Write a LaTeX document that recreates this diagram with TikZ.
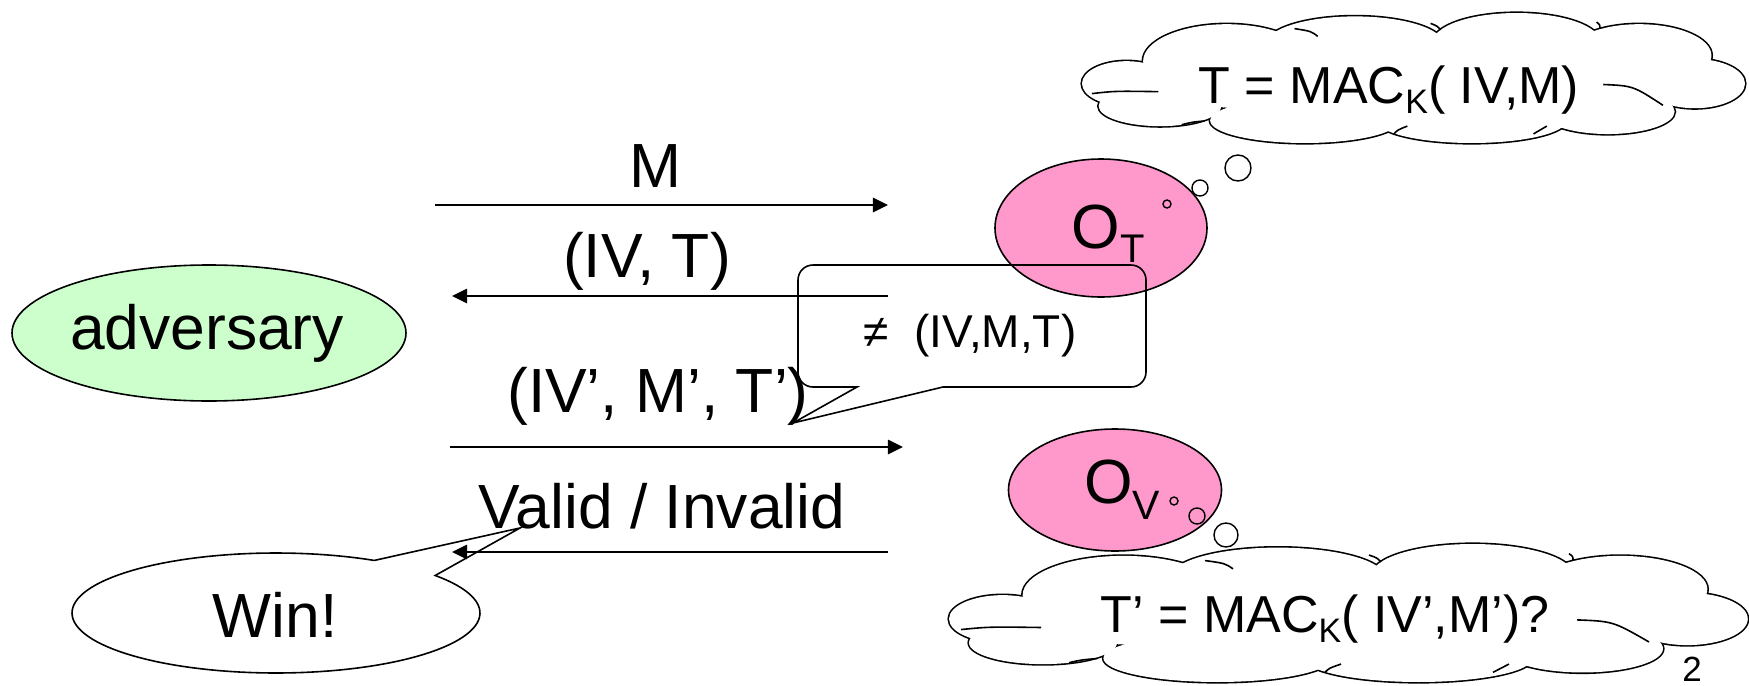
\documentclass[tikz,border=0pt]{standalone}
\usepackage{fontspec}
\setmainfont{Liberation Sans}
\usetikzlibrary{shapes.geometric,arrows.meta}
\definecolor{advgreen}{HTML}{CCFFCC}
\definecolor{orpink}{HTML}{FF99CC}
\newcommand{\lowsub}[3]{\raisebox{-#2}{\fontsize{#3}{#3}\selectfont #1}}
\def\puffs{-0.866/0.086/0.134/0.345, -0.564/-0.259/0.252/0.569, -0.178/-0.517/0.268/0.431, 0.309/-0.552/0.252/0.448, 0.678/-0.345/0.218/0.483, 0.846/0.086/0.151/0.379, 0.584/0.517/0.201/0.345, 0.174/0.655/0.285/0.345, -0.329/0.655/0.285/0.345, -0.765/0.431/0.185/0.310}
\newcommand{\drawcloud}{%
  \foreach \u/\v/\a/\b in \puffs {\draw[line width=0.8pt] (\u,\v) ellipse[x radius=\a, y radius=\b];}
  \foreach \u/\v/\a/\b in \puffs {\fill[white] (\u,\v) ellipse[x radius=\a, y radius=\b];}
  \fill[white] (0,0) ellipse[x radius=0.87, y radius=0.6];
  \draw[cstroke] (-0.97,0.24) .. controls (-0.90,0.20) .. (-0.77,0.21);
  \draw[cstroke] (0.57,0.10) .. controls (0.66,0.12) .. (0.75,0.42);
  \draw[cstroke] (-0.36,-0.76) .. controls (-0.31,-0.72) .. (-0.29,-0.64);
  \draw[cstroke] (0.05,-0.84) .. controls (0.07,-0.80) .. (0.08,-0.74);
  \draw[cstroke] (0.55,-0.86) .. controls (0.56,-0.82) .. (0.56,-0.76);
  \draw[cstroke] (-0.70,0.72) .. controls (-0.67,0.68) .. (-0.63,0.66);
  \draw[cstroke] (-0.06,0.86) .. controls (-0.05,0.80) .. (-0.02,0.74);
  \draw[cstroke] (0.36,0.86) .. controls (0.38,0.80) .. (0.40,0.74);
}
\begin{document}
\begin{tikzpicture}[x=0.25pt,y=-0.25pt,
  lbl/.style={font=\fontsize{15.6pt}{18pt}\selectfont, inner sep=0pt, anchor=base},
  cl/.style={font=\fontsize{13pt}{15pt}\selectfont, inner sep=0pt, anchor=base},
  oval/.style={ellipse, draw, line width=0.4pt, inner sep=0pt},
  msg/.style={line width=0.5pt, -{Triangle[length=3.8pt,width=3.6pt]}},
  bub/.style={circle, draw, line width=0.35pt, inner sep=0pt},
  cstroke/.style={line width=0.4pt},
  edge/.style={line width=0.4pt}
]
\useasboundingbox (0,0) rectangle (1749,686);

% thought clouds
\begin{scope}[shift={(1414,78)}, xscale=332, yscale=65]
\drawcloud
\end{scope}
\node[cl] (c1t) at (1389,103) {T = MAC\lowsub{K}{2.5pt}{8.5pt}( IV,M)};
\begin{scope}[shift={(1349,613)}, xscale=400, yscale=69]
\drawcloud
\end{scope}
\node[cl] (c2t) at (1325,632) {T’ = MAC\lowsub{K}{2.5pt}{8.5pt}( IV’,M’)?};

% oracles
\node[oval, fill=orpink, minimum width=53pt, minimum height=34.5pt] (OT) at (1101,228) {};
\node[lbl] (OTt) at (1108,248) {O\lowsub{T}{3.5pt}{10pt}};
\node[oval, fill=orpink, minimum width=53.25pt, minimum height=30.5pt] (OV) at (1115,490) {};
\node[lbl] (OVt) at (1122,503) {O\lowsub{V}{4pt}{10.25pt}};

% thought bubbles
\node[bub, minimum size=2pt] (bt1) at (1167,204) {};
\node[bub, minimum size=4pt] (bt2) at (1200,188) {};
\node[bub, minimum size=6.5pt] (bt3) at (1238,168) {};
\node[bub, minimum size=2pt] (bv1) at (1174,501) {};
\node[bub, minimum size=4pt] (bv2) at (1197,516) {};
\node[bub, minimum size=6pt] (bv3) at (1226,535) {};

% adversary
\node[oval, fill=advgreen, minimum width=98.5pt, minimum height=34pt] (adv) at (209,333) {};
\node[lbl] (advt) at (207,349) {adversary};

% Win! callout
\draw[edge, fill=white] plot[domain=-38.7:298.8, samples=120, variable=\t] ({276+204*cos(\t)},{613+60*sin(\t)}) -- (520,528) -- cycle;
\node[lbl] (win) at (275,637) {Win!};

% not-equal callout
\draw[edge] (857,387) [rounded corners=3.75pt] -- (798,387) -- (798,265) -- (1146,265) -- (1146,387) [sharp corners] -- (943,387) -- (793,423) -- cycle;
\node[font=\fontsize{11.5pt}{13pt}\selectfont, inner sep=0pt, anchor=base] (ne) at (970,347) {≠\ \ (IV,M,T)};

% messages
\coordinate (m1) at (435,205); \coordinate (m2) at (888,205);
\draw[msg] (m1) -- (m2);
\node[lbl] (ml) at (655,187) {M};
\coordinate (t1) at (888,296); \coordinate (t2) at (452,296);
\draw[msg] (t1) -- (t2);
\node[lbl] (tl) at (647,277) {(IV, T)};
\coordinate (f1) at (450,447); \coordinate (f2) at (903,447);
\draw[msg] (f1) -- (f2);
\node[lbl] (fl) at (658,412) {(IV’, M’, T’)};
\coordinate (v1) at (888,552); \coordinate (v2) at (452,552);
\draw[msg] (v1) -- (v2);
\node[lbl] (vl) at (662,528) {Valid / Invalid};

% page number
\node[font=\fontsize{8.75pt}{10pt}\selectfont, inner sep=0pt, anchor=base] (pg) at (1692,681) {2};
\end{tikzpicture}
\end{document}
